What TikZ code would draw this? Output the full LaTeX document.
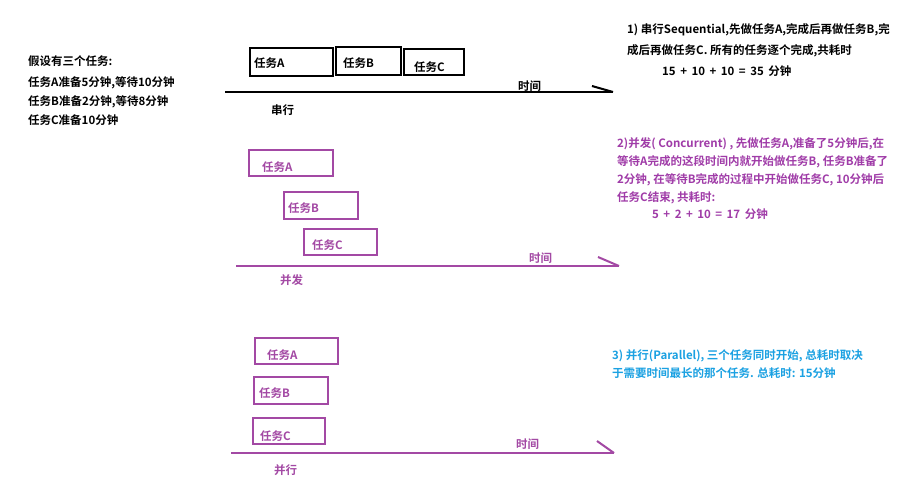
\documentclass[tikz,border=0pt]{standalone}
\usepackage{fontspec}
\setmainfont{Noto Sans CJK SC}[BoldFont={Noto Sans CJK SC Bold}]
\definecolor{pp}{HTML}{A349A4}
\definecolor{ptext}{HTML}{A03CA8}
\definecolor{bl}{HTML}{1BA1E2}
\newcommand\qsp{\hspace{4.5pt}}
\begin{document}
\begin{tikzpicture}[x=1pt,y=-1pt,
  txt/.style={anchor=base west,inner sep=0pt,font=\fontsize{11.5pt}{13pt}\selectfont\bfseries},
  tbox/.style={draw,line width=2.2pt,inner sep=0pt},
  axis/.style={line width=2pt},
  barb/.style={line width=2pt}]
\useasboundingbox[fill=white] (0,0) rectangle (913,503);

% left description
\node[txt] (l1) at (28,66) {假设有三个任务:};
\node[txt] (l2) at (28,86) {任务A准备5分钟,等待10分钟};
\node[txt] (l3) at (28,105) {任务B准备2分钟,等待8分钟};
\node[txt] (l4) at (28,124) {任务C准备10分钟};

% serial
\node[tbox,black,minimum width=83pt,minimum height=28pt] (sA) at (291.5,62) {};
\node[tbox,black,minimum width=65pt,minimum height=28pt] (sB) at (368.5,61) {};
\node[tbox,black,minimum width=60pt,minimum height=26pt] (sC) at (434,62) {};
\node[txt] (sAl) at (254,68) {任务A};
\node[txt] (sBl) at (343,68) {任务B};
\node[txt] (sCl) at (414,71) {任务C};
\coordinate (s0) at (225,92);
\coordinate (s1) at (613,92);
\coordinate (sb) at (592,86);
\draw[axis] (s0) -- (s1);
\draw[barb] (sb) -- (s1);
\node[txt] (st) at (518,90) {时间};
\node[txt] (sn) at (271,114) {串行};
\node[txt] (r1a) at (627,34) {1) 串行Sequential,先做任务A,完成后再做任务B,完};
\node[txt] (r1b) at (627,55) {成后再做任务C. 所有的任务逐个完成,共耗时};
\node[txt] (r1c) at (662,75) {15\qsp{}+\qsp{}10\qsp{}+\qsp{}10\qsp{}=\qsp{}35\qsp{}分钟};

% concurrent
\begin{scope}[pp]
\node[tbox,minimum width=84pt,minimum height=26pt] (cA) at (291,163) {};
\node[tbox,minimum width=74pt,minimum height=27pt] (cB) at (321,205.5) {};
\node[tbox,minimum width=73pt,minimum height=26pt] (cC) at (340.5,242) {};
\node[txt] (cAl) at (262,171) {任务A};
\node[txt] (cBl) at (288,212) {任务B};
\node[txt] (cCl) at (312,249) {任务C};
\coordinate (c0) at (236,266);
\coordinate (c1) at (619,266);
\coordinate (cb) at (598,257);
\draw[axis] (c0) -- (c1);
\draw[barb] (cb) -- (c1);
\node[txt] (ct) at (529,262) {时间};
\node[txt] (cn) at (280,284) {并发};
\end{scope}
\begin{scope}[ptext]
\node[txt] (r2a) at (617,147) {2)并发( Concurrent) , 先做任务A,准备了5分钟后,在};
\node[txt] (r2b) at (617,165) {等待A完成的这段时间内就开始做任务B, 任务B准备了};
\node[txt] (r2c) at (617,183) {2分钟, 在等待B完成的过程中开始做任务C, 10分钟后};
\node[txt] (r2d) at (617,201) {任务C结束, 共耗时:};
\node[txt] (r2e) at (652,218) {5\qsp{}+\qsp{}2\qsp{}+\qsp{}10\qsp{}=\qsp{}17\qsp{}分钟};
\end{scope}

% parallel
\begin{scope}[pp]
\node[tbox,minimum width=83pt,minimum height=26pt] (pA) at (296.5,351) {};
\node[tbox,minimum width=74pt,minimum height=27pt] (pB) at (291,390.5) {};
\node[tbox,minimum width=72pt,minimum height=26pt] (pC) at (289,431) {};
\node[txt] (pAl) at (267,359) {任务A};
\node[txt] (pBl) at (259,397) {任务B};
\node[txt] (pCl) at (260,440) {任务C};
\coordinate (p0) at (231,453);
\coordinate (p1) at (614,453);
\coordinate (pb) at (597,441);
\draw[axis] (p0) -- (p1);
\draw[barb] (pb) -- (p1);
\node[txt] (pt) at (516,448) {时间};
\node[txt] (pn) at (274,474) {并行};
\end{scope}
\begin{scope}[bl]
\node[txt] (r3a) at (612,359) {3) 并行(Parallel), 三个任务同时开始, 总耗时取决};
\node[txt] (r3b) at (612,377) {于需要时间最长的那个任务. 总耗时: 15分钟};
\end{scope}
\end{tikzpicture}
\end{document}
